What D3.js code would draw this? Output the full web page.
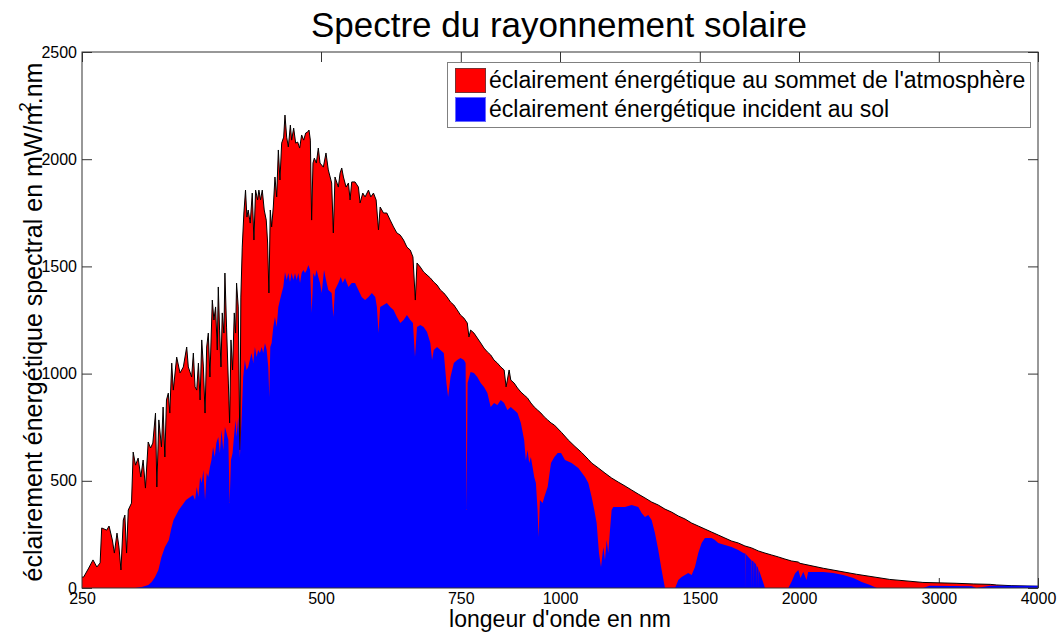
<!DOCTYPE html>
<html>
<head>
<meta charset="utf-8">
<script src="https://cdn.jsdelivr.net/npm/d3@7/dist/d3.min.js"></script>
<style>
  body { margin: 0; background: #fff; }
  svg { display: block; font-family: "Liberation Sans", Arial, Helvetica, sans-serif; }
  .tick text { font-size: 16px; fill: #000; font-family: "Liberation Sans", Arial, Helvetica, sans-serif; }
  .tick line { stroke: #333; }
</style>
</head>
<body>
<div id="chart"></div>
<script>
// Spectre au sommet de l'atmosphère : longueur d'onde (nm), valeur (mW/m².nm)
const topWavelengths = [
  250, 251.2, 254.9, 258.1, 261, 263.5, 264.7, 268.6, 270.4, 273, 274.6, 276.7, 278.3, 279.9,
  281.8, 283.1, 284.5, 285.9, 288.6, 290, 292, 294.2, 296.5, 298.5, 300.5, 302.9, 305, 307,
  309.4, 310.6, 312.4, 314.8, 316.3, 317.9, 319.4, 321.1, 322.5, 324.3, 325.8, 329, 332.2,
  335.4, 338.7, 340.3, 343.6, 345.3, 347, 348.7, 350.4, 352.1, 353.8, 355.5, 357.2, 358.9,
  360.6, 362.3, 364.8, 366.5, 368.3, 370.1, 371.2, 372.6, 374.1, 375.5, 377.3, 378.4, 380.2,
  382.2, 383.6, 385.1, 386.9, 388.8, 390.3, 391.4, 393.3, 395.2, 396.3, 397.9, 399.8, 401.7,
  403.3, 404.8, 407.2, 409.6, 411.6, 413.6, 416, 417.6, 419.6, 421.7, 424.1, 426.6, 428.3,
  429.9, 431.6, 433.3, 435.4, 437.5, 439.7, 441.8, 443.9, 446.1, 448.7, 450.4, 452.6, 454.8,
  457.5, 459.2, 461.9, 464.6, 467.3, 470, 472.7, 475.5, 478.3, 481, 482.9, 484.8, 486.6,
  488.5, 490.4, 493.3, 496.1, 498.6, 503.4, 507.3, 510.7, 515.7, 518.2, 520.7, 525.8, 528.4,
  531, 533.6, 537.7, 541.4, 544, 546.6, 551.9, 557.3, 560, 564.4, 568.2, 573.8, 577.7, 582.2,
  586.7, 590.7, 593.6, 599.4, 605.2, 611.1, 617.1, 623.1, 629.2, 635.3, 641.5, 647.8, 652.8,
  657.3, 660.5, 666.9, 673.4, 680, 686.6, 693.4, 700.1, 706.9, 713.9, 720.8, 727.9, 735,
  742.2, 749.4, 756.8, 764.2, 767.9, 771.6, 779.2, 786.8, 794.5, 802.2, 810.1, 817.9, 825.9,
  834, 842.2, 850.4, 855.3, 862.8, 867, 875.4, 884, 892.7, 901.3, 910.2, 919, 928, 937, 946.2,
  955.5, 964.8, 974.2, 983.8, 1004.8, 1024.4, 1044.4, 1064.8, 1085.6, 1096.1, 1117.5, 1139.3,
  1161.5, 1184.2, 1207.3, 1230.9, 1254.9, 1279.4, 1304.4, 1329.8, 1355.8, 1382.3, 1409.2,
  1436.7, 1464.8, 1493.4, 1522.5, 1552.2, 1582.5, 1613.4, 1644.9, 1677, 1709.7, 1743.1,
  1777.1, 1811.8, 1847.2, 1883.2, 1920, 1957.5, 1995.7, 2006, 2146, 2363, 2602, 2865, 3154,
  3314, 3482, 3550, 3700, 4000
];
const topValues = [
  51, 51, 93, 131, 98, 117, 280, 270, 289, 224, 163, 256, 191, 84,
  317, 340, 163, 364, 396, 634, 573, 606, 518, 597, 466, 681, 653, 676,
  816, 471, 784, 658, 844, 611, 877, 909, 816, 1049, 923, 1077, 1003,
  1031, 1124, 1031, 984, 1096, 938, 923, 1049, 877, 1157, 1031, 816, 1124,
  1189, 984, 1343, 1250, 1311, 1110, 1404, 1203, 1031, 1283, 1189, 1469, 1217,
  956, 770, 1157, 1017, 1283, 1189, 1422, 1311, 644, 1357, 1590, 1749, 1856,
  1730, 1763, 1702, 1842, 1623, 1856, 1810, 1856, 1810, 1856, 1763, 1716, 1609,
  1376, 1763, 1684, 1777, 1917, 1824, 2043, 1903, 2075, 2103, 2206, 2103, 2057,
  2159, 2089, 2145, 2075, 2080, 2052, 2113, 2089, 2122, 2127, 2136, 2089, 1716,
  1982, 2005, 1982, 2052, 1982, 1963, 2029, 1950, 1889, 1656, 1917, 1870, 1935,
  1959, 1917, 1870, 1889, 1810, 1894, 1894, 1870, 1796, 1842, 1824, 1856, 1824, 1842,
  1810, 1670, 1777, 1749, 1749, 1716, 1684, 1656, 1646, 1623, 1590, 1576, 1544,
  1343, 1516, 1497, 1474, 1460, 1446, 1427, 1413, 1390, 1376, 1357, 1334, 1320,
  1297, 1273, 1259, 1236, 1171, 1203, 1189, 1166, 1143, 1119, 1101, 1087, 1063,
  1049, 1031, 1017, 938, 1017, 970, 956, 933, 914, 900, 886, 863, 844, 830, 816,
  798, 784, 770, 760, 725, 690, 660, 632, 600, 583, 560, 536,
  513, 494, 476, 457, 438, 420, 401, 387, 368, 354, 336,
  322, 303, 289, 275, 261, 247, 233, 219, 210, 196, 187,
  173, 163, 154, 145, 135, 126, 121, 115, 92, 64, 40, 26, 22,
  19, 17, 14, 11, 8
];

// Spectre incident au sol
const groundWavelengths = [
  250, 291.6, 297.3, 303, 306, 309, 312, 314.8, 317.9, 321.6, 324, 326, 331, 338, 345,
  347, 348.7, 350.4, 352.1, 353.8, 355.5, 357.2, 358.9, 360.6, 362.3, 363.9, 365.6, 367.4,
  369.1, 371.2, 372.9, 374.7, 376.6, 378.4, 380.2, 382.2, 383.6, 385.1, 386.9, 388.8, 390.3,
  391.4, 393.3, 395.2, 397.1, 399, 400.9, 402.9, 404.8, 406.8, 408.8, 410.8, 412.8, 414.8,
  416.8, 418.8, 420.9, 422.9, 425, 427.1, 429.1, 430.4, 431.6, 433.3, 435.4, 437.5, 439.7,
  441.8, 443.9, 446.1, 448.2, 450.4, 452.6, 454.8, 457, 459.2, 461.4, 463.7, 465.9, 468.2,
  470.5, 472.7, 475, 477.4, 479.7, 482, 484.4, 486.6, 489, 491.4, 493.7, 496.1, 498.6, 501,
  504.4, 507.3, 510.7, 515.7, 518.2, 520.7, 525.8, 529.5, 532.5, 536.1, 541.4, 546.6, 551.9,
  557.3, 562.6, 568.2, 573.8, 579.5, 585.2, 588, 590.7, 593.6, 599.4, 605.2, 611.1, 617.1,
  623.1, 629.2, 635.3, 641.5, 647.8, 652.8, 656.7, 660.5, 666.9, 673.4, 680, 686.6, 690,
  693.4, 700.1, 706.9, 713.9, 719.4, 722.9, 727.9, 735, 742.2, 749.4, 756.8, 760.5, 762.7,
  764.9, 771.6, 779.2, 786.8, 794.5, 802.2, 810.1, 817.9, 825.9, 834, 842.2, 850.4, 858.6,
  867, 875.4, 884, 892.7, 901.3, 905.7, 910.2, 914.6, 919, 928, 932.5, 937, 939.7, 943.4,
  950.8, 955.5, 964.8, 974.2, 983.8, 993.4, 1003.1, 1014.6, 1034.4, 1054.6, 1075.2, 1085.6,
  1096.1, 1104.6, 1112.1, 1119.7, 1126.3, 1133.9, 1139.3, 1144.9, 1150.4, 1156, 1161.5,
  1167.1, 1184.2, 1207.3, 1230.9, 1254.9, 1267.1, 1279.4, 1291.8, 1304.4, 1317, 1329.8,
  1342.8, 1355.8, 1396.6, 1409.2, 1422.9, 1450.6, 1464.8, 1479, 1493.4, 1507.9, 1522.5,
  1552.2, 1567.2, 1582.5, 1613.4, 1644.9, 1677, 1702, 1713, 1714, 1715, 1726.7, 1742, 1743,
  1744, 1754, 1755, 1756, 1760.2, 1766, 1767, 1768, 1776, 1777, 1778, 1786, 1803.6, 1811.8,
  1939, 1958, 1977, 1996, 2009, 2025, 2044, 2054, 2094, 2146, 2209, 2274, 2342, 2399, 2458,
  2506, 2865, 2920, 3300, 3347, 3482, 4000
];
const groundValues = [
  0, 0, 5, 14, 28, 51, 84, 145, 190, 224, 280, 317, 364, 410, 434,
  410, 471, 424, 518, 490, 550, 410, 536, 518, 564, 597, 658, 611,
  676, 704, 630, 737, 644, 751, 723, 690, 396, 597, 630, 723, 784,
  704, 798, 611, 784, 984, 1063, 1017, 1031, 1063, 1096, 1049, 1124, 1077,
  1110, 1096, 1124, 1096, 1143, 1110, 1031, 891, 1124, 1143, 1217, 1264, 1217,
  1311, 1343, 1376, 1404, 1474, 1437, 1469, 1427, 1469, 1437, 1469, 1437, 1469,
  1422, 1469, 1483, 1469, 1483, 1507, 1483, 1283, 1469, 1451, 1483, 1451, 1422, 1376,
  1483, 1437, 1390, 1376, 1264, 1390, 1422, 1451, 1422, 1446, 1404, 1422, 1422,
  1390, 1357, 1343, 1357, 1376, 1357, 1311, 1189, 1311, 1320, 1329, 1311, 1297,
  1264, 1236, 1250, 1273, 1250, 1236, 1077, 1217, 1227, 1217, 1194, 1143, 1063,
  1110, 1124, 1110, 1096, 956, 891, 984, 1049, 1063, 1073, 1063, 1049, 364,
  956, 1007, 1003, 984, 956, 938, 909, 844, 863, 854, 877, 863, 830,
  844, 830, 816, 770, 690, 597, 644, 583, 611, 518, 490, 364, 238, 410,
  396, 424, 471, 583, 611, 630, 630, 597, 583, 560, 518, 490,
  424, 364, 303, 163, 98, 191, 131, 224, 163, 270, 364,
  378, 378, 378, 387, 378, 350, 331, 340, 317, 256, 177,
  84, 0, 0, 37, 51, 70, 61, 98, 163, 210, 233,
  233, 224, 210, 201, 191, 177, 163, 160, 0, 158, 145, 130, 0,
  128, 122, 0, 120, 117, 110, 0, 105, 95, 0, 90, 70, 23, 0,
  0, 30, 68, 84, 47, 76, 37, 75, 75, 75, 70, 61, 47, 28, 14,
  0, 0, 10, 8, 0, 11, 11
];

const xTicks = [250, 500, 750, 1000, 1500, 2000, 3000, 4000];
const yTicks = [0, 500, 1000, 1500, 2000, 2500];

const legendLabels = [
  "éclairement énergétique au sommet de l'atmosphère",
  "éclairement énergétique incident au sol"
];
const colors = ['#ff0000', '#0000ff'];

const width = 1061, height = 635;
const plot = { left: 82, right: 1038, top: 52, bottom: 588 };

const topData = topWavelengths.map((w, i) => [w, topValues[i]]);
const groundData = groundWavelengths.map((w, i) => [w, groundValues[i]]);

const x = d3.scaleLog().domain([250, 4000]).range([plot.left, plot.right]);
const y = d3.scaleLinear().domain([0, 2500]).range([plot.bottom, plot.top]);

const svg = d3.select('#chart').append('svg')
  .attr('width', width)
  .attr('height', height);

svg.append('defs').append('clipPath').attr('id', 'clip')
  .append('rect')
  .attr('x', plot.left).attr('y', plot.top)
  .attr('width', plot.right - plot.left)
  .attr('height', plot.bottom - plot.top);

// axes first (ticks go under the filled areas, like MATLAB)
const tickLen = 10;
const fmt = d3.format('d');

svg.append('g')
  .attr('transform', `translate(0,${plot.bottom})`)
  .call(d3.axisBottom(x).tickValues(xTicks).tickFormat(fmt)
    .tickSize(-tickLen).tickSizeOuter(0).tickPadding(5))
  .call(g => g.select('.domain').remove());

svg.append('g')
  .attr('transform', `translate(0,${plot.top})`)
  .call(d3.axisTop(x).tickValues(xTicks).tickFormat('')
    .tickSize(-tickLen).tickSizeOuter(0))
  .call(g => g.select('.domain').remove());

svg.append('g')
  .attr('transform', `translate(${plot.left},0)`)
  .call(d3.axisLeft(y).tickValues(yTicks).tickFormat(fmt)
    .tickSize(-tickLen).tickSizeOuter(0).tickPadding(5))
  .call(g => g.select('.domain').remove());

svg.append('g')
  .attr('transform', `translate(${plot.right},0)`)
  .call(d3.axisRight(y).tickValues(yTicks).tickFormat('')
    .tickSize(-tickLen).tickSizeOuter(0))
  .call(g => g.select('.domain').remove());

// areas
const area = d3.area()
  .x(d => x(d[0]))
  .y0(y(0))
  .y1(d => y(d[1]));

const line = d3.line()
  .x(d => x(d[0]))
  .y(d => y(d[1]));

const plotArea = svg.append('g').attr('clip-path', 'url(#clip)');

plotArea.append('path')
  .datum(topData)
  .attr('d', area)
  .attr('fill', colors[0]);

plotArea.append('path')
  .datum(topData)
  .attr('d', line)
  .attr('fill', 'none')
  .attr('stroke', '#000')
  .attr('stroke-width', 1);

plotArea.append('path')
  .datum(groundData)
  .attr('d', area)
  .attr('fill', colors[1]);

// axes box
svg.append('rect')
  .attr('x', plot.left).attr('y', plot.top)
  .attr('width', plot.right - plot.left)
  .attr('height', plot.bottom - plot.top)
  .attr('fill', 'none')
  .attr('stroke', '#333')
  .attr('stroke-width', 1);

// title and labels
svg.append('text')
  .attr('x', 559).attr('y', 37)
  .attr('text-anchor', 'middle')
  .style('font-size', '35px')
  .text('Spectre du rayonnement solaire');

svg.append('text')
  .attr('x', 560).attr('y', 627)
  .attr('text-anchor', 'middle')
  .style('font-size', '23px')
  .text("longeur d'onde en nm");

const ylab = svg.append('text')
  .attr('transform', 'translate(42,322) rotate(-90)')
  .attr('text-anchor', 'middle')
  .style('font-size', '25px');
ylab.append('tspan').text('éclairement énergétique spectral en mW/m');
ylab.append('tspan').attr('dy', -11).attr('dx', -7).style('font-size', '17px').text('2');
ylab.append('tspan').attr('dy', 11).attr('dx', -2).text('.nm');

// legend
const legend = svg.append('g');
legend.append('rect')
  .attr('x', 447.5).attr('y', 62.5)
  .attr('width', 583).attr('height', 65)
  .attr('fill', '#fff')
  .attr('stroke', '#808080');

legendLabels.forEach((label, i) => {
  const ly = 68 + i * 29;
  legend.append('rect')
    .attr('x', 455.5).attr('y', ly + 0.5)
    .attr('width', 30).attr('height', 24)
    .attr('fill', colors[i])
    .attr('stroke', i === 0 ? '#7a3030' : '#6a6aff')
    .attr('stroke-width', 1);
  legend.append('text')
    .attr('x', 489).attr('y', ly + 20)
    .style('font-size', '23px')
    .text(label);
});
</script>
</body>
</html>
